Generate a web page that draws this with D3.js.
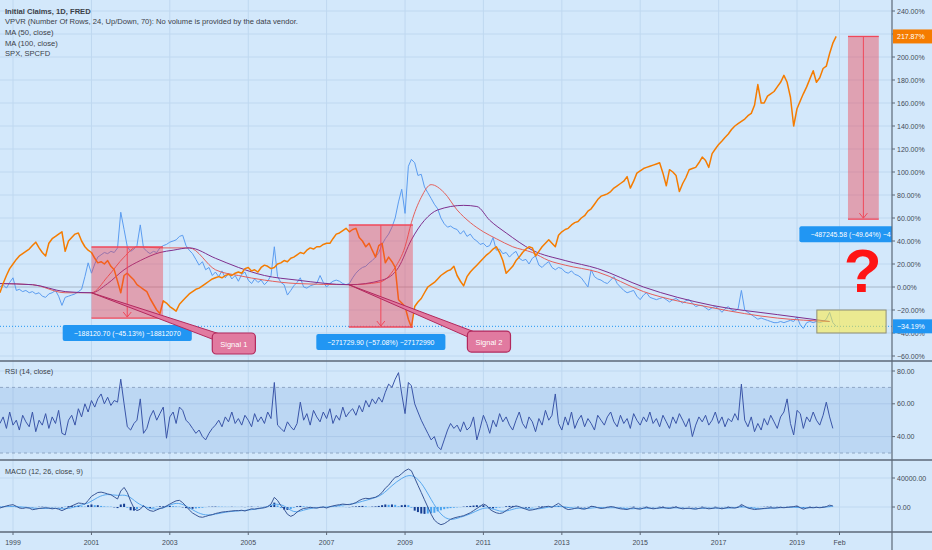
<!DOCTYPE html>
<html>
<head>
<meta charset="utf-8">
<title>Initial Claims vs SPX</title>
<script src="https://cdn.jsdelivr.net/npm/d3@7"></script>
<style>
  body { margin: 0; background: #d3e8fb; }
  svg { display: block; font-family: "Liberation Sans", Arial, sans-serif; }
</style>
</head>
<body>
<div id="chart"></div>
<script>
// monthly series, first value is Sep 1998 (percent change from the first bar)
const startMonth = new Date(1998, 8, 1);

const spx = [
  -5,3,10,16,20,24,27,29,31,33, 36,39,34,30,27,38,42,44,46,48,
  31,40,43,46,47,40,35,32,30,25, 21,22,20,23,18,15,5,-5,10,12,
  9,6,2,0,-2,-4,-10,-15,-20,-23, -12,-14,-17,-19,-21,-15,-12,-9,-6,-4,
  -2,-1,1,3,5,7,8,9,8,10, 11,10,12,13,12,16,17,14,15,13,
  17,19,18,16,17,20,21,23,22,25, 26,28,30,29,32,34,33,35,35,37,
  38,38,42,46,47,49,51,48,50,51, 43,40,35,38,32,26,36,38,21,26,
  22,17,-11,-14,-17,-28,-35,-17,-13,-10, -5,0,2,4,7,10,12,14,15,18,
  10,5,1,9,13,16,19,22,25,28, 30,33,35,30,23,12,15,18,23,26,
  30,33,35,34,27,31,35,38,41,38, 35,45,48,50,51,54,56,57,60,62,
  66,68,72,76,79,80,81,83,86,88, 90,92,96,86,92,99,101,103,104,105,
  106,107,108,99,88,102,100,97,83,90, 95,102,103,104,108,113,110,104,116,120,
  124,127,130,133,137,140,142,144,146,149, 151,158,176,160,160,166,168,170,174,178,
  184,178,165,140,155,162,168,174,181,188, 178,182,190,192,203,212,217.87
];

const claims = [
  0,2,-1,4,8,-3,-2,-4,-3,-5, -4,-6,-5,-8,-9,-6,-5,-3,-8,-16,
  -9,-8,-7,-6,-4,-2,9,21,12,20, 26,28,30,29,31,30,34,65,50,35,
  31,33,36,54,34,31,29,31,30,34, 36,37,39,40,41,44,45,36,32,29,
  24,19,22,15,17,10,13,9,14,8, 12,7,10,5,11,13,6,3,7,4,
  6,2,5,10,35,9,4,2,-7,-3, 1,4,8,0,-1,1,2,3,10,4,
  0,3,5,6,5,3,2,3,8,12, 15,17,18,21,23,26,30,37,42,46,
  52,60,74,85,64,105,111,108,97,98, 87,82,77,72,68,60,55,52,53,51,
  50,46,49,44,46,42,40,37,38,35, 36,43,32,33,29,30,26,29,31,25,
  23,24,20,25,27,19,17,20,22,17, 15,17,16,13,12,14,11,10,8,4,
  0,15,9,7,6,4,3,6,9,3, 0,-3,-5,-4,-3,-8,-11,-7,-5,-9,
  -10,-11,-10,-9,-11,-13,-11,-10,-12,-14, -12,-11,-14,-17,-16,-16,-18,-20,-18,-17,
  -19,-22,-19,-17,-20,-21,-19,-3,-20,-22, -24,-26,-28,-27,-28,-29,-30,-31,-31,-30,
  -31,-30,-29,-30,-26,-33,-36,-31,-30,-31, -30,-31,-30,-28,-22,-31,-34.19
];

const ma50Dates = ["1998-09","1999-07","2000-05","2001-01","2001-06","2001-11","2002-03","2002-10","2003-07","2004-03",
  "2004-10","2005-06","2006-04","2007-08","2008-05","2008-10","2009-01","2009-03","2009-06","2009-09",
  "2010-01","2010-05","2010-09","2011-01","2011-05","2011-10","2012-04","2012-09","2013-02","2013-12",
  "2015-02","2016-11","2018-07","2019-11"];
const ma50 = [3,2,-5,-5,9,26,35,34,34,15, 10,6,3,2,4,17,35,56,78,89, 82,67,56,48,42,35,30,23,19,13, -4,-18,-27,-30];

const ma100Dates = ["1998-09","1999-07","2000-05","2001-01","2001-06","2001-11","2002-04","2002-10","2003-02","2003-07",
  "2004-03","2004-10","2005-06","2006-04","2007-08","2008-06","2008-11","2009-03","2009-07","2009-11",
  "2010-07","2010-11","2011-03","2011-08","2012-04","2013-02","2013-12","2015-02","2016-11","2018-07","2019-11"];
const ma100 = [3,2,-4,-5,3,15,23,30,32,34, 25,17,10,6,2,6,17,41,58,67, 71,70,58,47,32,23,16,0,-16,-24,-30];

const rsi = [
  48,52,45,55,47,50,44,53,49,46,55,43,50,47,54,45,52,48,56,42,
  41,50,53,47,57,52,60,55,62,58,63,66,60,64,59,62,61,
  75,60,
  46,44,48,50,63,42,45,
  52,56,50,54,58,39,52,55,48,58,56,
  50,48,45,42,44,40,38,42,45,
  47,50,46,52,49,55,48,51,47,53,50,46,54,49,52,48,55,51,
  73,
  47,45,43,49,46,44,48,
  61,
  50,54,47,56,52,49,55,51,57,48,53,50,58,52,55,57,53,
  59,55,62,58,63,60,64,61,
  67,72,70,75,79,66,54,
  73,71,
  60,55,50,46,42,38,40,34,32,38,
  44,48,45,47,43,
  49,44,46,52,38,45,53,48,42,50,46,54,49,52,
  47,44,50,55,48,45,52,49,43,51,47,56,50,53,66,
  48,44,52,47,55,45,50,53,46,51,48,44,53,50,47,
  52,55,49,46,53,48,51,45,54,50,47,52,49,55,48,
  51,46,53,49,45,52,48,54,50,46,51,40,47,52,49,
  53,47,50,55,48,52,46,51,49,54,50,72,50,46,52,
  43,48,44,51,47,53,49,45,52,55,63,48,41,56,54,
  45,52,49,55,50,47,53,61,52,45
];

const macd = [
  -1400,0,1500,2500,3200,1000,-1400,-2000,-1000,-1500,
  -3700,-3000,-2000,-1500,-1000,-1500,-2500,-1800,-3000,-5000,
  -3000,-500,1500,3500,5500,5000,4000,9000,14700,17500,
  20000,20500,19500,18000,17000,14000,11000,22000,27000,20000,
  8000,-1400,-5000,-3000,2000,-2500,-5000,-6000,-4000,-2000,
  -1000,1500,4000,6500,8500,9200,6000,1000,-4000,-8300,
  -11000,-13500,-14200,-13000,-11500,-10600,-9000,-8000,-7000,-6500,
  -6000,-5500,-5000,-5000,-4500,-5500,-4000,-2500,-3000,-2000,
  -1500,-1000,500,4000,13300,9000,2000,-3000,-10000,-12900,
  -11000,-7000,-4000,-2000,-1400,-500,-1000,-1500,-500,0,
  -1400,500,1500,2500,3200,4000,3500,3200,4500,6000,
  9000,11000,12000,11500,12500,13500,16000,20000,26000,30000,
  36000,41000,42300,46000,50000,52400,50000,40000,30000,20000,
  10000,0,-10000,-18000,-22000,-24400,-23000,-20000,-17000,-15200,
  -14000,-13000,-12000,-10000,-8000,-5000,-2000,1000,4000,2000,
  -3000,-6000,-8000,-9000,-8000,-5000,-2000,0,1500,500,
  -1500,-3000,-4500,-4000,-3000,-1500,-500,500,1000,-500,
  2500,5000,1500,-2000,-3500,-3000,-2000,-1000,-2500,-3000,
  -1500,1000,500,-1000,-2000,-1500,-500,500,0,-1500,
  -2500,-3000,-3500,-2000,-1000,-2500,-3000,-1500,-500,-1500,
  -2500,-2000,-1000,-500,-1500,-2000,-1000,0,-1500,-2500,
  -2000,-1500,-2500,-3000,-2000,-1000,-1500,-2500,-2000,-1000,
  -1500,-2500,-1500,-500,-1000,-1500,-500,3500,1000,-1500,
  -2500,-3500,-3000,-2500,-2000,-1500,-1000,-1500,-1000,-500,
  -1000,-500,0,500,1500,-1000,-3000,-1500,-500,-1000,
  -500,-1000,-500,500,2500,1500
];

// signal line, one value every 3 months
const macdSignal = [
  0,1000,500,-1000,-2500,-1500,-2000,-3000,2000,4500,
  14000,18500,15000,18000,5000,-1000,-4000,0,7000,2000,
  -7000,-12000,-10000,-7000,-5500,-5000,-3000,-1500,5000,3000,
  -9000,-4000,-1000,-500,500,3000,3800,8000,11500,16000,
  30000,40000,46000,35000,10000,-12000,-19000,-14000,-10000,-2500,
  0,-7000,-5000,0,-3000,-3000,0,2000,-1000,-2000,
  -2500,0,-1500,-500,-3000,-2000,-1500,-2000,-1000,-1000,
  -2000,-2500,-1500,-1500,-2000,-1000,1000,-2500,-2500,-1300,
  -800,0,-1500,-800,-700,1000
];

const macdHist = [
  300,500,800,600,400,-300,-600,-400,200,-200,
  -500,-200,300,400,300,-100,-400,200,-300,-800,
  500,1200,1500,1500,1800,1000,500,2500,3500,2500,
  2500,1500,800,500,400,-500,-1500,3500,4500,-1000,
  -4500,-5000,-3000,-500,1500,-500,-1500,-1000,500,1000,
  1000,1500,1500,1200,800,500,-500,-1500,-2000,-2500,
  -2000,-1500,-1000,-200,300,500,600,500,400,300,
  200,300,200,100,200,-200,300,500,200,300,
  200,300,800,2500,6000,2000,-1500,-3500,-4000,-3000,
  -1000,1000,1500,1000,500,300,-200,-300,200,300,
  -400,300,500,600,500,400,-200,-300,500,800,
  1200,1500,1000,200,500,800,1500,2500,3500,3000,
  3500,3000,1000,2500,3000,2500,-1000,-5000,-7000,-9000,
  -9500,-9000,-8500,-8000,-6000,-4500,-3000,-2000,-1500,-1000,
  -500,-200,500,1000,1500,2000,2500,2000,2500,500,
  -1500,-2000,-1500,-800,-200,1000,1500,1500,1000,300,
  -500,-1000,-1000,-500,200,600,800,700,500,-300,
  800,1500,-200,-1000,-1200,-500,200,500,-500,-500,
  300,800,400,-300,-500,-200,300,500,200,-400,
  -600,-500,-400,300,500,-300,-400,300,500,-200,
  -400,-100,400,500,-200,-300,300,500,-200,-500,
  -200,300,-300,-500,200,500,200,-300,-100,400,
  100,-400,200,500,200,-100,400,2000,-300,-900,
  -1000,-800,-300,200,300,500,600,200,300,300,
  200,300,400,500,800,-600,-1500,-300,400,200,
  300,100,400,600,1000,300
];

const pctTicks = [-60,-40,-20,0,20,40,60,80,100,120,140,160,180,200,220,240];
const rsiTicks = [40,60,80];
const macdTicks = [0,40000];
const yearTicks = [1999,2001,2003,2005,2007,2009,2011,2013,2015,2017,2019];
const extraTick = {date: "2020-02-01", label: "Feb"};
const lastSpx = 217.87, lastClaims = -34.19;

const legendLines = [
  "Initial Claims, 1D, FRED",
  "VPVR (Number Of Rows, 24, Up/Down, 70): No volume is provided by the data vendor.",
  "MA (50, close)",
  "MA (100, close)",
  "SPX, SPCFD"
];

// measure boxes drawn on the chart (dates / percent); the third label is cut by the price axis
const boxes = [
  {x0: "2001-01-01", x1: "2002-10-30", top: 34.8, bottom: -27, text: "−188120.70 (−45.13%) −18812070"},
  {x0: "2007-07-27", x1: "2009-03-15", top: 53.9, bottom: -34.8, text: "−271729.90 (−57.08%) −27172990"},
  {x0: "2020-04-20", x1: "2021-02-01", top: 217.87, bottom: 59, text: "−487245.58 (−49.64%) −4", labelWidth: 128}
];
const callouts = [
  {anchor: "2001-01-01", anchorPct: -5, box: "2004-02-06", boxPct: -40, text: "Signal 1"},
  {anchor: "2007-07-27", anchorPct: 2, box: "2010-08-10", boxPct: -38.3, text: "Signal 2"}
];
const yellowBox = {x0: "2019-07-05", x1: "2021-04-10", top: -20, bottom: -40};
const question = {date: "2020-09-05", pct: -4.3};

// ---------- layout ----------
const W = 932, H = 550, PR = 892;
const mainTop = 0, mainBot = 361, rsiBot = 460, macdBot = 532;
const bg = "#d3e8fb", gridC = "#bfd8f0", sepC = "#5d6878", axisText = "#434a56";

const parseDay = d3.timeParse("%Y-%m-%d");
const parseMonth = d3.timeParse("%Y-%m");
const monthAt = i => d3.timeMonth.offset(startMonth, i);

const x = d3.scaleTime().domain([new Date(1999, 0, 1), new Date(2019, 0, 1)]).range([13, 797]);
const y = d3.scaleLinear().domain([-60, 240]).range([356, 11]);
const yR = d3.scaleLinear().domain([30, 80]).range([453, 371]);
const yM = d3.scaleLinear().domain([0, 40000]).range([507, 478]);
const f2 = d3.format(".2f");

const svg = d3.select("#chart").append("svg").attr("width", W).attr("height", H);
svg.append("rect").attr("width", W).attr("height", H).attr("fill", bg);

const defs = svg.append("defs");
[["clipMain", mainTop, mainBot], ["clipRsi", mainBot, rsiBot], ["clipMacd", rsiBot, macdBot]].forEach(c => {
  defs.append("clipPath").attr("id", c[0]).append("rect")
    .attr("x", 0).attr("y", c[1]).attr("width", PR).attr("height", c[2] - c[1]);
});

// time ticks
const timeTicks = yearTicks.map(yr => ({date: new Date(yr, 0, 1), label: String(yr)}))
  .concat([{date: parseDay(extraTick.date), label: extraTick.label}]);

// vertical grid
svg.append("g").selectAll("line").data(timeTicks).join("line")
  .attr("x1", d => x(d.date)).attr("x2", d => x(d.date))
  .attr("y1", 0).attr("y2", macdBot)
  .attr("stroke", gridC).attr("stroke-width", 1);

// horizontal grids
svg.append("g").selectAll("line").data(pctTicks).join("line")
  .attr("x1", 0).attr("x2", PR).attr("y1", d => y(d)).attr("y2", d => y(d))
  .attr("stroke", d => d === 0 ? "#a6b8ca" : gridC).attr("stroke-width", 1);
svg.append("g").selectAll("line").data(rsiTicks).join("line")
  .attr("x1", 0).attr("x2", PR).attr("y1", d => yR(d)).attr("y2", d => yR(d))
  .attr("stroke", gridC);
svg.append("g").selectAll("line").data(macdTicks).join("line")
  .attr("x1", 0).attr("x2", PR).attr("y1", d => yM(d)).attr("y2", d => yM(d))
  .attr("stroke", gridC);

// ---------- main pane ----------
const main = svg.append("g").attr("clip-path", "url(#clipMain)");

const monthLine = (yScale) => d3.line().x((d, i) => x(monthAt(i))).y(d => yScale(d));

main.append("path").datum(claims)
  .attr("fill", "none").attr("stroke", "#5b9cf0").attr("stroke-width", 1)
  .attr("d", monthLine(y));

const maLine = d3.line().curve(d3.curveMonotoneX).x(d => x(d.date)).y(d => y(d.v));
main.append("path").datum(ma50.map((v, i) => ({date: parseMonth(ma50Dates[i]), v})))
  .attr("fill", "none").attr("stroke", "#e4605c").attr("stroke-width", 1)
  .attr("d", maLine);
main.append("path").datum(ma100.map((v, i) => ({date: parseMonth(ma100Dates[i]), v})))
  .attr("fill", "none").attr("stroke", "#7e2f8e").attr("stroke-width", 1)
  .attr("d", maLine);

main.append("path").datum(spx)
  .attr("fill", "none").attr("stroke", "#f57c00").attr("stroke-width", 1.5)
  .attr("stroke-linejoin", "round")
  .attr("d", monthLine(y));

// price line of the last claims value
main.append("line").attr("x1", 0).attr("x2", PR)
  .attr("y1", y(lastClaims)).attr("y2", y(lastClaims))
  .attr("stroke", "#2196f3").attr("stroke-width", 1).attr("stroke-dasharray", "1,2");

// yellow box
main.append("rect")
  .attr("x", x(parseDay(yellowBox.x0))).attr("y", y(yellowBox.top))
  .attr("width", x(parseDay(yellowBox.x1)) - x(parseDay(yellowBox.x0)))
  .attr("height", y(yellowBox.bottom) - y(yellowBox.top))
  .attr("fill", "rgba(255,235,59,0.55)").attr("stroke", "#8f8f78").attr("stroke-width", 1);

// measure boxes with labels
boxes.forEach(b => {
  const x0 = x(parseDay(b.x0)), x1 = x(parseDay(b.x1));
  const yt = y(b.top), yb = y(b.bottom), cx = (x0 + x1) / 2;
  main.append("rect").attr("x", x0).attr("y", yt).attr("width", x1 - x0).attr("height", yb - yt)
    .attr("fill", "rgba(242,54,69,0.4)");
  [yt, yb].forEach(v => main.append("line").attr("x1", x0).attr("x2", x1).attr("y1", v).attr("y2", v)
    .attr("stroke", "#f0485a").attr("stroke-width", 1.3));
  main.append("line").attr("x1", cx).attr("x2", cx).attr("y1", yt).attr("y2", yb - 1)
    .attr("stroke", "#f0485a").attr("stroke-width", 1);
  main.append("path").attr("d", `M${cx - 4},${yb - 6}L${cx},${yb - 1}L${cx + 4},${yb - 6}`)
    .attr("fill", "none").attr("stroke", "#f0485a").attr("stroke-width", 1);

  const lbl = main.append("g");
  const t = lbl.append("text").attr("y", yb + 7 + 10.6)
    .attr("fill", "#fff").attr("font-size", 6.9).text(b.text);
  const tw = t.node().getComputedTextLength();
  const rw = b.labelWidth || tw + 22;
  t.attr("x", cx - rw / 2 + 11);
  lbl.insert("rect", "text").attr("x", cx - rw / 2).attr("y", yb + 7)
    .attr("width", rw).attr("height", 16).attr("rx", 2).attr("fill", "#2196f3");
});

// signal callouts
callouts.forEach(c => {
  const ax = x(parseDay(c.anchor)), ay = y(c.anchorPct);
  const bx = x(parseDay(c.box)), by = y(c.boxPct);
  main.append("path").attr("d", `M${ax},${ay}L${bx + 7},${by + 1}L${bx + 7},${by + 9}Z`)
    .attr("fill", "#e17aa0").attr("stroke", "#b2295d").attr("stroke-width", 1).attr("stroke-linejoin", "round");
  const g = main.append("g");
  const t = g.append("text").attr("x", bx + 21).attr("y", by + 13.5)
    .attr("text-anchor", "middle").attr("fill", "#fff").attr("font-size", 7.5).text(c.text);
  const tw = t.node().getComputedTextLength();
  g.insert("rect", "text").attr("x", bx + 21 - tw / 2 - 8).attr("y", by)
    .attr("width", tw + 16).attr("height", 21).attr("rx", 4)
    .attr("fill", "#e17aa0").attr("stroke", "#b2295d").attr("stroke-width", 1.2);
});

main.append("text").attr("x", x(parseDay(question.date))).attr("y", y(question.pct))
  .attr("text-anchor", "middle").attr("font-size", 62).attr("font-weight", "bold")
  .attr("fill", "#ff1414").text("?");

// legend
svg.append("g").selectAll("text").data(legendLines).join("text")
  .attr("x", 5).attr("y", (d, i) => 13.5 + i * 10.7)
  .attr("font-size", 7.6).attr("fill", "#3b3f48")
  .attr("font-weight", (d, i) => i === 0 ? "bold" : "normal")
  .text(d => d);

// ---------- RSI pane ----------
const rsiG = svg.append("g").attr("clip-path", "url(#clipRsi)");
rsiG.append("rect").attr("x", 0).attr("width", PR)
  .attr("y", yR(70)).attr("height", yR(30) - yR(70))
  .attr("fill", "rgba(40,100,190,0.13)");
[70, 30].forEach(v => rsiG.append("line").attr("x1", 0).attr("x2", PR)
  .attr("y1", yR(v)).attr("y2", yR(v))
  .attr("stroke", "#8ea6c4").attr("stroke-dasharray", "3,3"));
rsiG.append("path").datum(rsi)
  .attr("fill", "none").attr("stroke", "#3a55a8").attr("stroke-width", 1)
  .attr("d", monthLine(yR));
svg.append("text").attr("x", 5).attr("y", 374).attr("font-size", 7.3).attr("fill", "#3b3f48")
  .text("RSI (14, close)");

// ---------- MACD pane ----------
const macdG = svg.append("g").attr("clip-path", "url(#clipMacd)");
macdG.append("g").selectAll("rect").data(macdHist).join("rect")
  .attr("x", (d, i) => x(monthAt(i)) - 1)
  .attr("width", 2)
  .attr("y", d => Math.min(yM(d), yM(0)))
  .attr("height", d => Math.abs(yM(d) - yM(0)))
  .attr("fill", (d, i) => (i === 0 || Math.abs(d) >= Math.abs(macdHist[i - 1])) ? "#163f94" : "#4aa3ef");
macdG.append("path").datum(macdSignal)
  .attr("fill", "none").attr("stroke", "#58a8ef").attr("stroke-width", 1)
  .attr("d", d3.line().curve(d3.curveBasis).x((d, i) => x(monthAt(i * 3))).y(d => yM(d)));
macdG.append("path").datum(macd)
  .attr("fill", "none").attr("stroke", "#3b5796").attr("stroke-width", 1)
  .attr("d", monthLine(yM));
svg.append("text").attr("x", 5).attr("y", 474).attr("font-size", 7.3).attr("fill", "#3b3f48")
  .text("MACD (12, 26, close, 9)");

// ---------- separators and axes ----------
[mainBot, rsiBot, macdBot].forEach(v => svg.append("line")
  .attr("x1", 0).attr("x2", W).attr("y1", v).attr("y2", v)
  .attr("stroke", sepC).attr("stroke-width", 1.5));
svg.append("line").attr("x1", PR).attr("x2", PR).attr("y1", 0).attr("y2", H)
  .attr("stroke", sepC).attr("stroke-width", 1.2);

// axis labels hidden behind a last value badge are left out, as on the original
const badges = [[lastSpx, "#f57c00"], [lastClaims, "#2196f3"]];
const rightAxis = (ticks, scale, fmt, hide) => {
  const g = svg.append("g");
  g.selectAll("line").data(ticks).join("line")
    .attr("x1", PR).attr("x2", PR + 3).attr("y1", d => scale(d)).attr("y2", d => scale(d))
    .attr("stroke", sepC);
  g.selectAll("text").data(ticks.filter(d => !hide || !hide(d))).join("text")
    .attr("x", PR + 5).attr("y", d => scale(d) + 2.5)
    .attr("font-size", 7).attr("fill", axisText).text(fmt);
};
rightAxis(pctTicks, y, d => f2(d) + "%", d => badges.some(b => Math.abs(y(d) - y(b[0])) < 5));
rightAxis(rsiTicks, yR, d => f2(d));
rightAxis(macdTicks, yM, d => f2(d));

// last value badges
badges.forEach(([v, col]) => {
  svg.append("rect").attr("x", PR + 1).attr("y", y(v) - 7).attr("width", W - PR - 1).attr("height", 14)
    .attr("fill", col);
  svg.append("text").attr("x", PR + 5).attr("y", y(v) + 2.5)
    .attr("font-size", 7).attr("fill", "#fff").text(f2(v) + "%");
});

// time axis
const tAxis = svg.append("g");
tAxis.selectAll("line").data(timeTicks).join("line")
  .attr("x1", d => x(d.date)).attr("x2", d => x(d.date))
  .attr("y1", macdBot).attr("y2", macdBot + 3).attr("stroke", sepC);
tAxis.selectAll("text").data(timeTicks).join("text")
  .attr("x", d => x(d.date)).attr("y", 545)
  .attr("text-anchor", "middle").attr("font-size", 7).attr("fill", axisText)
  .text(d => d.label);
</script>
</body>
</html>
